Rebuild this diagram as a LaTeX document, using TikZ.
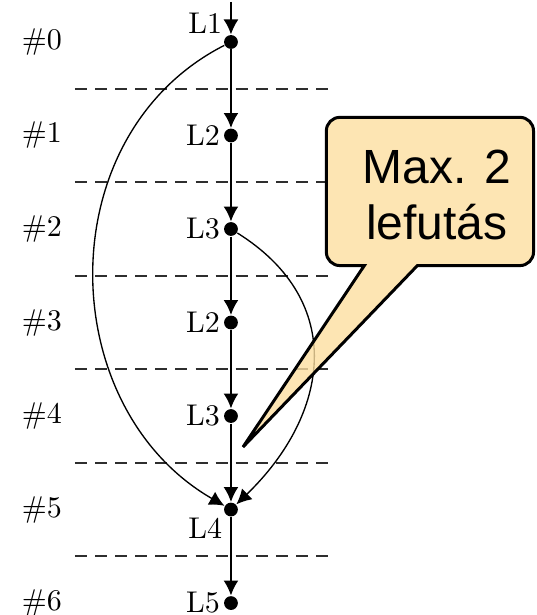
\documentclass[tikz,border=0pt]{standalone}
\usepackage{fontspec}
\newfontfamily\calloutfont{Liberation Sans}
\usetikzlibrary{arrows.meta,positioning}
\definecolor{notefill}{RGB}{252,222,160}
\definecolor{sepgray} {HTML}{2E2E2E}

\begin{document}
\begin{tikzpicture}[
  stmt/.style    ={circle,fill,inner sep=0pt,minimum size=4.6pt},
  lab/.style     ={inner sep=1pt},
  run/.style     ={-{Latex[length=5pt,width=5pt]},line width=0.65pt},
  jmp/.style     ={-{Latex[length=5pt,width=5pt]},line width=0.45pt},
  stage/.style   ={dash pattern=on 4pt off 2.7pt,line width=0.6pt,color=sepgray},
  notebox/.style ={minimum width=2.414cm,minimum height=1.723cm,inner sep=0pt},
  note/.style    ={draw,line width=1pt,fill=notefill,fill opacity=0.8},
  notetext/.style={font=\calloutfont\fontsize{16}{18.5}\selectfont,align=center},
  x=1cm, y=1cm
]
\useasboundingbox (-2.707,0.492) rectangle (3.586,-6.716);
%% Step separators
\foreach \y in {0.548,1.644,2.740,3.836,4.932,6.028}
  \draw[stage] (-1.828,-\y) -- (1.160,-\y);
%% Step numbers (left column)
\node (idx0) at (-2.215, 0.000) {\#0};
\node (idx1) at (-2.215,-1.096) {\#1};
\node (idx2) at (-2.215,-2.192) {\#2};
\node (idx3) at (-2.215,-3.288) {\#3};
\node (idx4) at (-2.215,-4.384) {\#4};
\node (idx5) at (-2.215,-5.480) {\#5};
\node (idx6) at (-2.215,-6.576) {\#6};
%% Executed statements
\coordinate (entry) at (0,0.47);
\node[stmt,label={[lab]above left:L1}] (s0) at (0, 0.000) {};
\node[stmt,label={[lab]left:L2}]       (s1) at (0,-1.096) {};
\node[stmt,label={[lab]left:L3}]       (s2) at (0,-2.192) {};
\node[stmt,label={[lab]left:L2}]       (s3) at (0,-3.288) {};
\node[stmt,label={[lab]left:L3}]       (s4) at (0,-4.384) {};
\node[stmt,label={[lab]below left:L4}] (s5) at (0,-5.480) {};
\node[stmt,label={[lab]left:L5}]       (s6) at (0,-6.576) {};
%% Sequential flow
\draw[run] (entry) -- (s0);
\draw[run] (s0) -- (s1);
\draw[run] (s1) -- (s2);
\draw[run] (s2) -- (s3);
\draw[run] (s3) -- (s4);
\draw[run] (s4) -- (s5);
\draw[run] (s5) -- (s6);
%% Jumps into L4
\draw[jmp] (s0) to[out=207,in=150,looseness=1.1] (s5);
\draw[jmp] (s2) to[out=-32,in=44,looseness=1.22] (s5);
%% Callout
\node[notebox] (note) at (2.332,-1.752) {};
\coordinate (tip) at (0.141,-4.747);
\path[note] (tip) -- ([xshift=1.067cm]note.south west) [rounded corners=4.5pt]
  -- (note.south east) -- (note.north east)
  -- (note.north west) -- (note.south west) [sharp corners]
  -- ([xshift=0.445cm]note.south west) -- cycle;
\node[notetext] (notetxt) at ([xshift=0.08cm,yshift=-0.04cm]note.center)
  {Max. 2\\lefutás};
\end{tikzpicture}
\end{document}
